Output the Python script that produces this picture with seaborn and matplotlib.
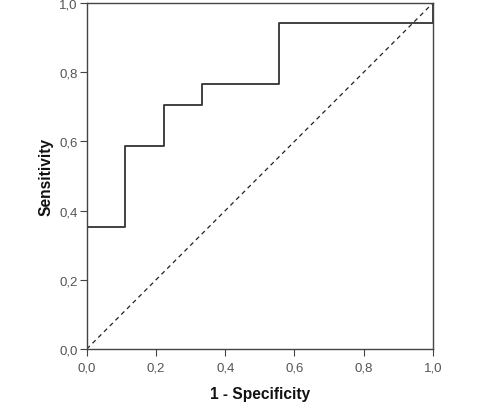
import matplotlib
matplotlib.use("Agg")
import matplotlib.pyplot as plt
import seaborn as sns
import pandas as pd
from matplotlib.ticker import FuncFormatter

# ROC curve vertices (step curve)
fpr = [0.0, 0.0, 0.1111, 0.1111, 0.2222, 0.2222, 0.3333, 0.3333, 0.5556, 0.5556, 1.0, 1.0]
tpr = [0.0, 0.3529, 0.3529, 0.5882, 0.5882, 0.7059, 0.7059, 0.7647, 0.7647, 0.9412, 0.9412, 1.0]
ref_x = [0.0, 1.0]
ref_y = [0.0, 1.0]
ticks = [0.0, 0.2, 0.4, 0.6, 0.8, 1.0]

sns.set_theme(style="white")
plt.rcParams['font.family'] = ['Liberation Sans', 'DejaVu Sans']

fig = plt.figure(figsize=(4.82, 4.10), dpi=100)
ax = fig.add_axes([0.180, 0.1463, 0.718, 0.8437])

df = pd.DataFrame({"x": fpr, "y": tpr})
sns.lineplot(data=df, x="x", y="y", sort=False, estimator=None, ax=ax,
             color="#333333", linewidth=1.3)
sns.lineplot(x=ref_x, y=ref_y, ax=ax, color="#222222", linewidth=0.9,
             linestyle=(0, (3.5, 3)))

ax.set_xlim(0, 1)
ax.set_ylim(0, 1)
ax.set_xticks(ticks)
ax.set_yticks(ticks)
fmt = FuncFormatter(lambda v, p: f"{v:.1f}".replace(".", ","))
ax.xaxis.set_major_formatter(fmt)
ax.yaxis.set_major_formatter(fmt)
ax.tick_params(axis="both", direction="out", length=5, width=0.8, color="#444444",
               labelsize=9.5, labelcolor="#555555", bottom=True, left=True)
ax.tick_params(axis="x", pad=4)
ax.tick_params(axis="y", pad=1.5)
for s in ax.spines.values():
    s.set_color("#444444")
    s.set_linewidth(1.0)

ax.set_xlabel("1 - Specificity", fontsize=11.2, fontweight="bold", color="#111111", labelpad=9)
ax.set_ylabel("Sensitivity", fontsize=11.2, fontweight="bold", color="#111111", labelpad=4)

fig.savefig("out.png", dpi=100)
